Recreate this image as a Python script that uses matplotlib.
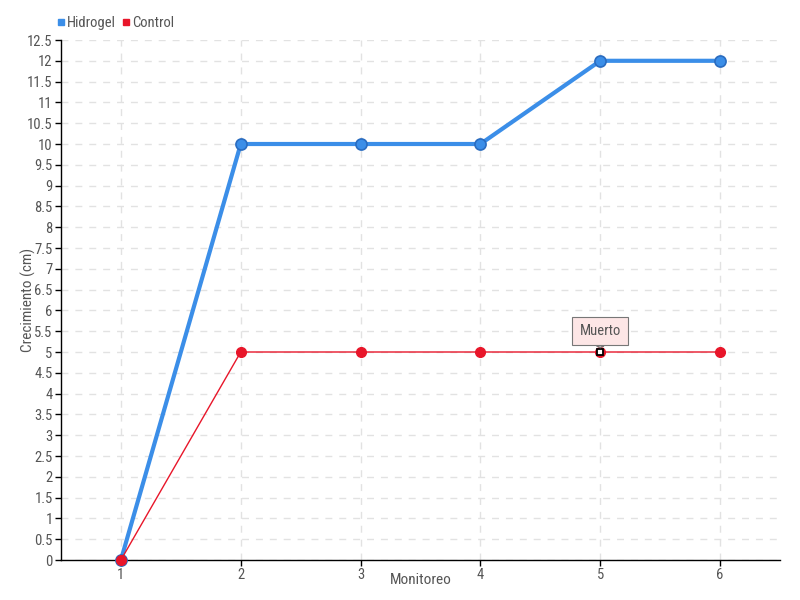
import numpy as np
import matplotlib.pyplot as plt
from matplotlib import font_manager
from matplotlib.lines import Line2D

# pick a narrow font if one is there
available = {f.name for f in font_manager.fontManager.ttflist}
narrow = [f for f in ['Liberation Sans Narrow', 'DejaVu Sans Condensed', 'Roboto Condensed', 'Roboto']
          if f in available]
plt.rcParams['font.family'] = narrow[:1] + ['DejaVu Sans']

# data
monitoreo = [1, 2, 3, 4, 5, 6]
hidrogel = [0, 10, 10, 10, 12, 12]
control = [0, 5, 5, 5, 5, 5]
muerto_idx = 4

text_col = '#555555'

fig = plt.figure(figsize=(8, 6), dpi=100)
ax = fig.add_axes([61 / 800, 40 / 600, 719 / 800, 520 / 600])

ax.plot(monitoreo, hidrogel, color='#3b8ee8', lw=3, marker='o', ms=8,
        mfc='#3b8ee8', mec='#2a6cc0', mew=1.2, zorder=3, clip_on=False)
ax.plot(monitoreo, control, color='#e8162a', lw=1, marker='o', ms=7,
        mfc='#e8162a', mec='#e8162a', zorder=4, clip_on=False)
ax.plot(monitoreo[muerto_idx], control[muerto_idx], marker='s', ms=5,
        mfc='white', mec='black', mew=1.3, zorder=5)

# tooltip over the dead plant
ax.annotate('Muerto', xy=(monitoreo[muerto_idx], control[muerto_idx]),
            xytext=(0, 15), textcoords='offset points', ha='center', va='center',
            fontsize=10.5, color=text_col,
            bbox=dict(boxstyle='square,pad=0.5', fc='#fde6e6', ec='#777777', lw=0.8),
            arrowprops=dict(arrowstyle='wedge,tail_width=0.5', fc='#fde6e6', ec='#777777',
                            lw=0.8, shrinkA=0, shrinkB=3),
            zorder=6)

ax.set_xlim(0.5, 6.5)
ax.set_ylim(0, 12.5)
ax.set_xticks(monitoreo)
yt = np.arange(0, 12.51, 0.5)
ax.set_yticks(yt)
ax.set_yticklabels([f'{v:g}' for v in yt])

ax.grid(True, color='#e2e2e2', ls=(0, (5, 5)), lw=1)
ax.set_axisbelow(True)
for s in ['top', 'right']:
    ax.spines[s].set_visible(False)
for s in ['left', 'bottom']:
    ax.spines[s].set_color('black')
    ax.spines[s].set_linewidth(1)
ax.tick_params(axis='both', colors='black', labelcolor=text_col, labelsize=10.5,
               length=4, width=1, direction='out', pad=2)

ax.set_xlabel('Monitoreo', color=text_col, fontsize=11)
ax.set_ylabel('Crecimiento (cm)', color=text_col, fontsize=11)
ax.xaxis.set_label_coords(0.5, -0.0385)
ax.yaxis.set_label_coords(-0.046, 0.5)
ax.xaxis.label.set_va('center')
ax.yaxis.label.set_va('center')

handles = [Line2D([], [], ls='none', marker='s', ms=5, mfc='#3b8ee8', mec='#3b8ee8'),
           Line2D([], [], ls='none', marker='s', ms=5, mfc='#e8162a', mec='#e8162a')]
fig.legend(handles, ['Hidrogel', 'Control'], loc='upper left',
           bbox_to_anchor=(0.055, 0.995), ncol=2, frameon=False, fontsize=10.5,
           handlelength=0.5, handletextpad=0.2, columnspacing=0.4,
           labelcolor=text_col)

fig.savefig('out.png', dpi=100)
